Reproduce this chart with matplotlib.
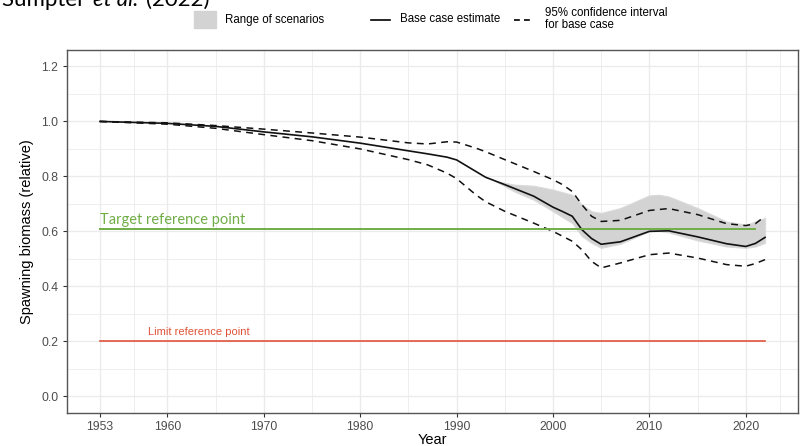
import matplotlib
matplotlib.use("Agg")
import matplotlib.pyplot as plt
from matplotlib.patches import Rectangle
from matplotlib.lines import Line2D

# --- donnees ---
annees = [1953, 1960, 1965, 1970, 1975, 1980, 1985, 1987, 1989, 1990, 1992, 1993,
          1995, 1998, 2000, 2001, 2002, 2003, 2004, 2005, 2007, 2010, 2012, 2015,
          2018, 2020, 2021, 2022]
base = [1.0, 0.993, 0.982, 0.962, 0.944, 0.921, 0.893, 0.882, 0.870, 0.860, 0.818, 0.797,
        0.770, 0.728, 0.688, 0.672, 0.655, 0.606, 0.574, 0.553, 0.562, 0.600, 0.602, 0.580,
        0.555, 0.545, 0.556, 0.578]
ic_haut = [1.0, 0.995, 0.985, 0.972, 0.958, 0.943, 0.922, 0.918, 0.926, 0.925, 0.903, 0.890,
           0.861, 0.818, 0.788, 0.770, 0.745, 0.697, 0.655, 0.636, 0.640, 0.676, 0.683, 0.661,
           0.628, 0.621, 0.628, 0.655]
ic_bas = [1.0, 0.990, 0.975, 0.952, 0.930, 0.900, 0.861, 0.842, 0.812, 0.792, 0.733, 0.708,
          0.673, 0.630, 0.600, 0.582, 0.564, 0.533, 0.491, 0.467, 0.485, 0.515, 0.521, 0.503,
          0.479, 0.473, 0.483, 0.497]

annees_scen = [1994, 1996, 1998, 2000, 2002, 2003, 2004, 2005, 2007, 2010, 2011, 2012,
               2015, 2018, 2020, 2021, 2022]
scen_haut = [0.783, 0.770, 0.766, 0.752, 0.733, 0.697, 0.673, 0.667, 0.685, 0.731, 0.733,
             0.727, 0.685, 0.636, 0.624, 0.636, 0.649]
scen_bas = [0.783, 0.745, 0.715, 0.673, 0.630, 0.582, 0.558, 0.540, 0.555, 0.600, 0.601,
            0.596, 0.567, 0.545, 0.540, 0.545, 0.558]

cible, cible_debut, cible_fin = 0.61, 1953, 2021
limite, limite_debut, limite_fin = 0.2, 1953, 2022

x_ticks = [1953, 1960, 1970, 1980, 1990, 2000, 2010, 2020]
x_minor = [1956.5, 1965, 1975, 1985, 1995, 2005, 2015, 2023.5]
y_ticks = [0.0, 0.2, 0.4, 0.6, 0.8, 1.0, 1.2]
y_minor = [0.1, 0.3, 0.5, 0.7, 0.9, 1.1]

VERT = "#70AD47"
ROUGE = "#E0533A"
GRIS_TXT = "#4D4D4D"

plt.rcParams["font.family"] = ["Liberation Sans", "DejaVu Sans"]

fig = plt.figure(figsize=(8.03, 4.46), dpi=100)
ax = fig.add_axes([66.7 / 803, 33.3 / 446, (798.3 - 66.7) / 803, (412.7 - 50) / 446])

# grille facon theme_bw
ax.set_xticks(x_minor, minor=True)
ax.set_yticks(y_minor, minor=True)
ax.grid(True, which="major", color="#EBEBEB", lw=1.0, zorder=0)
ax.grid(True, which="minor", color="#EBEBEB", lw=0.6, zorder=0)
ax.tick_params(which="minor", length=0)

ax.fill_between(annees_scen, scen_bas, scen_haut, color="#D3D3D3", lw=0.8,
                edgecolor="#DADADA", zorder=2)
ax.plot([limite_debut, limite_fin], [limite, limite], color=ROUGE, lw=1.2, zorder=3)
ax.plot(annees, ic_haut, color="#111111", lw=1.1, ls=(0, (4.5, 3.5)), zorder=4)
ax.plot(annees, ic_bas, color="#111111", lw=1.1, ls=(0, (4.5, 3.5)), zorder=4)
ax.plot(annees, base, color="#111111", lw=1.2, zorder=5)
ax.plot([cible_debut, cible_fin], [cible, cible], color=VERT, lw=1.4, zorder=6)

ax.text(1953, 0.628, "Target reference point", color=VERT, fontsize=10.5,
        family=["Lato", "DejaVu Sans"], va="baseline", ha="left", zorder=7)
ax.text(1958, 0.224, "Limit reference point", color=ROUGE, fontsize=8,
        va="baseline", ha="left", zorder=7)

ax.set_xlim(1949.55, 2025.45)
ax.set_ylim(-0.06, 1.26)
ax.set_xticks(x_ticks)
ax.set_yticks(y_ticks)
ax.set_yticklabels([f"{v:.1f}" for v in y_ticks])
ax.tick_params(which="major", length=3, width=0.8, color="#333333",
               labelcolor=GRIS_TXT, labelsize=8.8, pad=3)
for s in ax.spines.values():
    s.set_color("#555555")
    s.set_linewidth(1.0)

ax.set_xlabel("Year", fontsize=10.5, labelpad=0)
ax.set_ylabel("Spawning biomass (relative)", fontsize=10.5, labelpad=5)

# legende et titre coupe, en coordonnees pixels
ov = fig.add_axes([0, 0, 1, 1], facecolor="none")
ov.set_xlim(0, 803); ov.set_ylim(446, 0); ov.axis("off")
ov.add_patch(Rectangle((194, 11), 22, 17, color="#D3D3D3"))
ov.text(225, 19.5, "Range of scenarios", fontsize=8.3, va="center")
ov.add_line(Line2D([371, 390], [19.5, 19.5], color="black", lw=1.2))
ov.text(400, 19.5, "Base case estimate", fontsize=8.3, va="center")
ov.add_line(Line2D([514, 532], [19.5, 19.5], color="black", lw=1.2, ls=(0, (3.5, 2.5))))
ov.text(545, 19, "95% confidence interval\nfor base case", fontsize=8.3, va="center",
        linespacing=0.95)
ov.text(2, 6, "Sumpter ", fontsize=16, va="baseline", family=["Lato", "DejaVu Sans"])
ov.text(93, 6, "et al.", fontsize=16, va="baseline", style="italic",
        family=["Lato", "DejaVu Sans"])
ov.text(146, 6, "(2022)", fontsize=16, va="baseline", family=["Lato", "DejaVu Sans"])

fig.savefig("out.png", dpi=100)
